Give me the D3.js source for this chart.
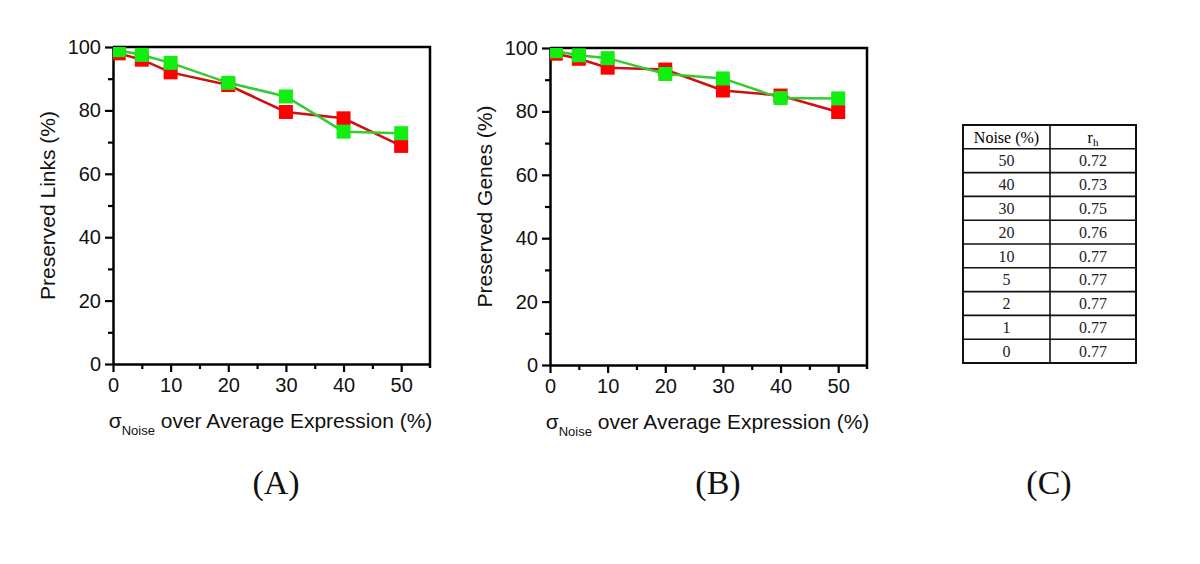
<!DOCTYPE html>
<html>
<head>
<meta charset="utf-8">
<script src="https://cdn.jsdelivr.net/npm/d3@7"></script>
<style>
  body { margin: 0; background: #fff; }
  svg { display: block; }
</style>
</head>
<body>
<div class="chart"></div>
<script>
// noise levels (x) for the two plots
let noiseX = [1, 5, 10, 20, 30, 40, 50];

// panel A: preserved links
let linksRed   = [98, 96, 92, 88, 79.5, 77.5, 68.8];
let linksGreen = [99, 97.5, 95, 88.7, 84.4, 73.3, 72.8];

// panel B: preserved genes
let genesRed   = [98.2, 96.6, 93.8, 93.2, 86.6, 85, 79.8];
let genesGreen = [99, 97.7, 96.8, 91.8, 90.4, 84.2, 84.1];

let yTicks = [0, 20, 40, 60, 80, 100];
let xTicks = [0, 10, 20, 30, 40, 50];

// panel C table
let tableHeader = ["Noise (%)", "r"];
let tableNoise = [50, 40, 30, 20, 10, 5, 2, 1, 0];
let tableRh = ["0.72", "0.73", "0.75", "0.76", "0.77", "0.77", "0.77", "0.77", "0.77"];

let panelLabels = ["(A)", "(B)", "(C)"];

let redFill = "#ff0000", redLine = "#d01010";
let greenFill = "#11ee11", greenLine = "#33cc33";

let svg = d3.select(".chart").append("svg")
    .attr("width", 1200)
    .attr("height", 564);

let width = 317, height = 317;

drawPanel(113, 47, "Preserved Links (%)", linksRed, linksGreen);
drawPanel(550, 48, "Preserved Genes (%)", genesRed, genesGreen);
drawTable();

function drawPanel(left, top, yTitle, red, green) {
    let g = svg.append("g")
        .attr("transform", "translate(" + left + "," + top + ")");

    let xScale = d3.scaleLinear().domain([0, 55]).range([0, width]);
    let yScale = d3.scaleLinear().domain([0, 100]).range([height, 0]);

    // minor ticks
    g.append("g")
        .attr("transform", `translate(0, ${height})`)
        .call(d3.axisBottom(xScale).tickValues([5, 15, 25, 35, 45]).tickSize(5).tickFormat(""))
        .call(a => a.select(".domain").remove());
    g.append("g")
        .call(d3.axisLeft(yScale).tickValues([10, 30, 50, 70, 90]).tickSize(5).tickFormat(""))
        .call(a => a.select(".domain").remove());

    let xAxis = g.append("g")
        .attr("transform", `translate(0, ${height})`)
        .call(d3.axisBottom(xScale).tickValues(xTicks).tickSize(8).tickPadding(6).tickSizeOuter(0));
    let yAxis = g.append("g")
        .call(d3.axisLeft(yScale).tickValues(yTicks).tickSize(8).tickPadding(4).tickSizeOuter(0));

    g.selectAll(".tick line").attr("stroke", "#000").attr("stroke-width", 2.2);
    g.selectAll(".domain").attr("stroke-width", 2.5);
    g.selectAll(".tick text")
        .attr("font-family", "Liberation Sans, Arial, sans-serif")
        .attr("font-size", 20)
        .attr("fill", "#111");

    // frame top and right
    g.append("path")
        .attr("d", `M0,0H${width}V${height + 4}`)
        .attr("fill", "none")
        .attr("stroke", "#000")
        .attr("stroke-width", 2.5);

    let line = d3.line()
        .x((d, i) => xScale(noiseX[i]))
        .y(d => yScale(d));

    let series = [
        {vals: red, fill: redFill, stroke: redLine},
        {vals: green, fill: greenFill, stroke: greenLine}
    ];

    series.forEach(function(s) {
        g.append("path")
            .datum(s.vals)
            .attr("fill", "none")
            .attr("stroke", s.stroke)
            .attr("stroke-width", 2.5)
            .attr("d", line);
    });

    let marks = g.append("g");
    series.forEach(function(s) {
        marks.selectAll(null)
            .data(s.vals)
            .enter().append("rect")
            .attr("x", (d, i) => Math.max(0, xScale(noiseX[i]) - 7))
            .attr("y", d => Math.max(0, yScale(d) - 7))
            .attr("width", (d, i) => xScale(noiseX[i]) + 7 - Math.max(0, xScale(noiseX[i]) - 7))
            .attr("height", d => yScale(d) + 7 - Math.max(0, yScale(d) - 7))
            .attr("fill", s.fill);
    });

    // axis titles
    g.append("text")
        .attr("transform", `translate(-65, ${height / 2}) rotate(-90)`)
        .attr("text-anchor", "middle")
        .attr("dy", "0.35em")
        .attr("font-family", "Liberation Sans, Arial, sans-serif")
        .attr("font-size", 21)
        .attr("fill", "#111")
        .text(yTitle);

    let xt = g.append("text")
        .attr("x", width / 2 - 1)
        .attr("y", height + 64)
        .attr("text-anchor", "middle")
        .attr("font-family", "Liberation Sans, Arial, sans-serif")
        .attr("font-size", 21)
        .attr("fill", "#111");
    xt.append("tspan").text("σ");
    xt.append("tspan").attr("font-size", 13).attr("dy", 7).text("Noise");
    xt.append("tspan").attr("dy", -7).text(" over Average Expression (%)");
}

function drawTable() {
    let tx = 963, ty = 125, colW = [87, 86], rowH = 23.8;
    let t = svg.append("g").attr("transform", `translate(${tx},${ty})`);
    let rows = tableNoise.length + 1;
    let yRow = d3.scaleLinear().domain([0, rows]).range([0, rows * rowH]);

    // grid lines
    d3.range(1, rows).forEach(function(r) {
        t.append("line")
            .attr("x1", 0).attr("x2", colW[0] + colW[1])
            .attr("y1", yRow(r)).attr("y2", yRow(r))
            .attr("stroke", "#111").attr("stroke-width", 1.6);
    });
    t.append("line")
        .attr("x1", colW[0]).attr("x2", colW[0])
        .attr("y1", 0).attr("y2", yRow(rows))
        .attr("stroke", "#111").attr("stroke-width", 1.6);
    t.append("rect")
        .attr("width", colW[0] + colW[1])
        .attr("height", yRow(rows))
        .attr("fill", "none")
        .attr("stroke", "#111")
        .attr("stroke-width", 2);

    let font = "Liberation Serif, Times New Roman, serif";
    t.append("text")
        .attr("x", colW[0] / 2).attr("y", yRow(0.5))
        .attr("dy", "0.35em").attr("text-anchor", "middle")
        .attr("font-family", font).attr("font-size", 16)
        .text(tableHeader[0]);
    let h = t.append("text")
        .attr("x", colW[0] + colW[1] / 2).attr("y", yRow(0.5))
        .attr("dy", "0.35em").attr("text-anchor", "middle")
        .attr("font-family", font).attr("font-size", 16);
    h.append("tspan").text(tableHeader[1]);
    h.append("tspan").attr("font-size", 11).attr("dy", 3).text("h");

    tableNoise.forEach(function(n, i) {
        t.append("text")
            .attr("x", colW[0] / 2).attr("y", yRow(i + 1.5))
            .attr("dy", "0.35em").attr("text-anchor", "middle")
            .attr("font-family", font).attr("font-size", 16)
            .attr("fill", "#222")
            .text(n);
        t.append("text")
            .attr("x", colW[0] + colW[1] / 2).attr("y", yRow(i + 1.5))
            .attr("dy", "0.35em").attr("text-anchor", "middle")
            .attr("font-family", font).attr("font-size", 16)
            .attr("fill", "#222")
            .text(tableRh[i]);
    });
}

// panel labels
let labelX = [276, 718, 1049];
panelLabels.forEach(function(l, i) {
    svg.append("text")
        .attr("x", labelX[i])
        .attr("y", 494)
        .attr("text-anchor", "middle")
        .attr("font-family", "Liberation Serif, Times New Roman, serif")
        .attr("font-size", 34)
        .attr("fill", "#111")
        .text(l);
});
</script>
</body>
</html>
